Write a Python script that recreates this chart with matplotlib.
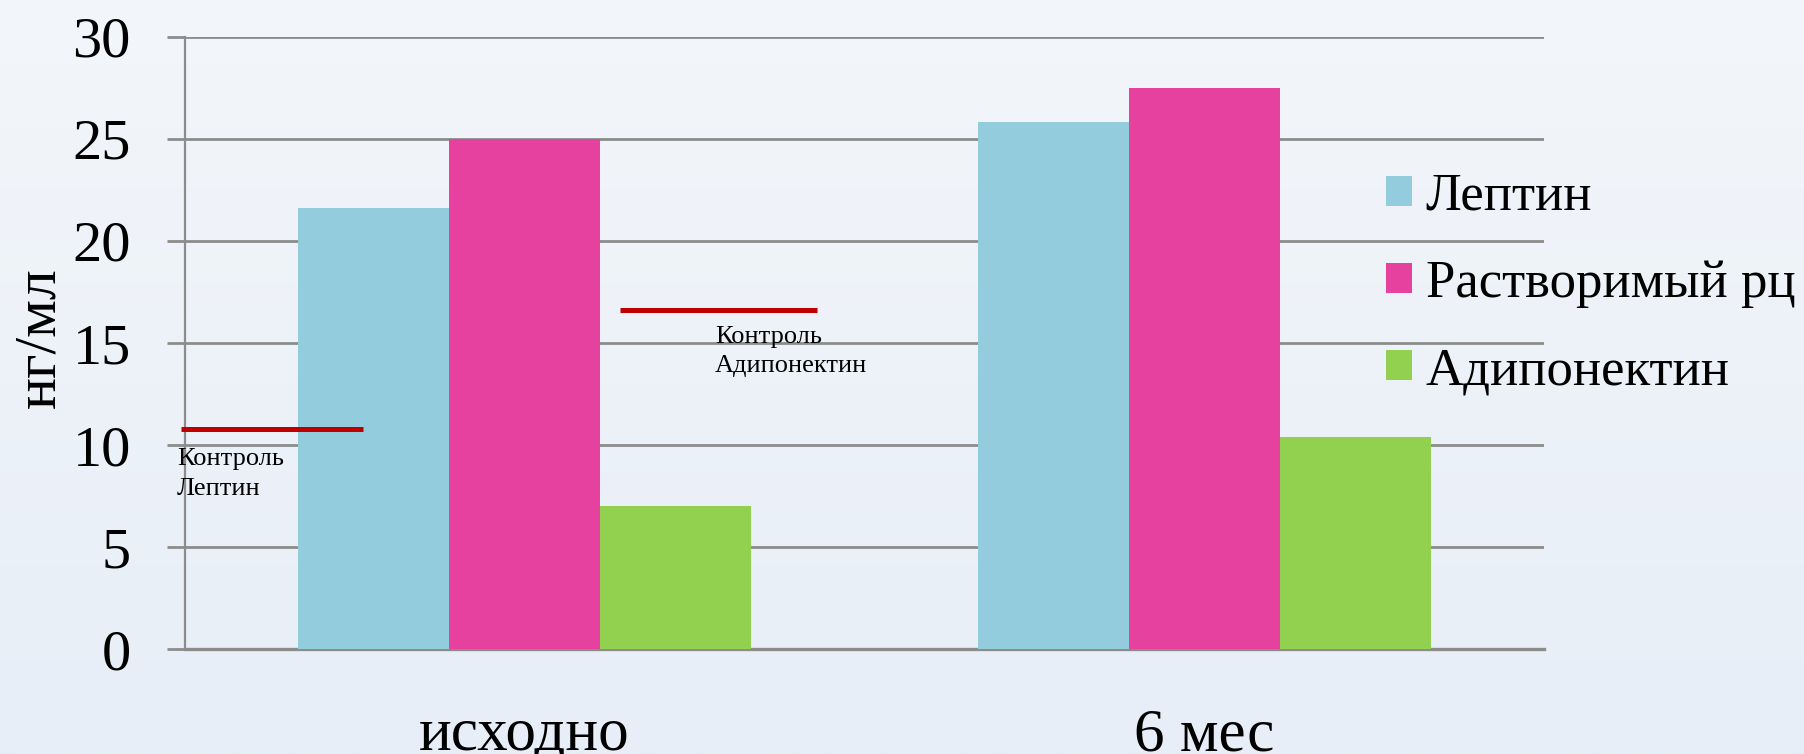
import matplotlib
matplotlib.use("Agg")
import matplotlib.pyplot as plt
import numpy as np
from matplotlib.patches import Patch

plt.rcParams["font.family"] = ["Liberation Serif", "DejaVu Serif"]

# Serum levels, ng/ml
groups = ["исходно", "6 мес"]
series = ["Лептин", "Растворимый рц", "Адипонектин"]
leptin = [21.6, 25.8]
receptor = [25.0, 27.5]
adiponectin = [7.0, 10.4]
colors = ["#93CDDD", "#E6419E", "#92D050"]

# Reference levels in the control group
control_leptin = 10.8
control_adipo = 16.6
control_leptin_span = (-0.506, -0.238)
control_adipo_span = (0.140, 0.430)

yticks = [0, 5, 10, 15, 20, 25, 30]

W, H = 1804, 754
fig = plt.figure(figsize=(W / 100, H / 100), dpi=100)

# soft vertical gradient behind everything
bg = fig.add_axes([0, 0, 1, 1], zorder=-10)
grad = np.linspace(0, 1, 256)[:, None]
top_c = np.array([0xF3, 0xF6, 0xFA]) / 255
bot_c = np.array([0xE7, 0xEE, 0xF7]) / 255
img = top_c[None, None, :] * (1 - grad[..., None]) + bot_c[None, None, :] * grad[..., None]
bg.imshow(img, aspect="auto", extent=[0, 1, 0, 1])
bg.set_axis_off()

ax = fig.add_axes([185 / W, 1 - 649.3 / H, (1544 - 185) / W, (649.3 - 36.7) / H])
ax.set_facecolor("none")

x = np.arange(len(groups))
bw = 0.222
for i, (vals, c) in enumerate(zip([leptin, receptor, adiponectin], colors)):
    ax.bar(x + (i - 1) * bw, vals, width=bw, color=c, zorder=3)

ax.set_xlim(-0.5, 1.5)
ax.set_ylim(0, 30)
ax.set_yticks(yticks)
ax.yaxis.grid(True, color="#8C8C8C", lw=2.0, zorder=1)
ax.set_axisbelow(True)

for s in ["top", "right"]:
    ax.spines[s].set_visible(False)
ax.spines["left"].set_color("#8C8C8C")
ax.spines["left"].set_linewidth(1.6)
ax.spines["bottom"].set_color("#8C8C8C")
ax.spines["bottom"].set_linewidth(2.4)

ax.tick_params(axis="y", length=13, width=2.0, color="#8C8C8C",
               labelsize=42, pad=26)
ax.set_xticks(x)
ax.set_xticklabels(groups)
ax.tick_params(axis="x", length=0, labelsize=44, pad=42)

ax.set_ylabel("нг/мл", fontsize=43)
ax.yaxis.set_label_coords(-(185 - 67) / (1544 - 185), (649.3 - 338) / (649.3 - 36.7))

# control group levels
ax.plot(control_leptin_span, [control_leptin] * 2, color="#C00000", lw=3.6,
        solid_capstyle="butt", zorder=4, clip_on=False)
ax.plot(control_adipo_span, [control_adipo] * 2, color="#C00000", lw=3.6,
        solid_capstyle="butt", zorder=4, clip_on=False)
ax.text(-0.512, control_leptin - 0.95, "Контроль\nЛептин", fontsize=19,
        linespacing=1.45, ha="left", va="top", zorder=5)
ax.text(0.28, control_adipo - 0.75, "Контроль\nАдипонектин", fontsize=19,
        linespacing=1.45, ha="left", va="top", zorder=5)

handles = [Patch(facecolor=c) for c in colors]
fig.legend(handles, series, loc="center left",
           bbox_to_anchor=(1386 / W, 1 - 284 / H), frameon=False,
           fontsize=38, handlelength=0.5, handleheight=0.5,
           handletextpad=0.25, labelspacing=0.74, borderpad=0,
           borderaxespad=0)

fig.savefig("out.png", dpi=100)
